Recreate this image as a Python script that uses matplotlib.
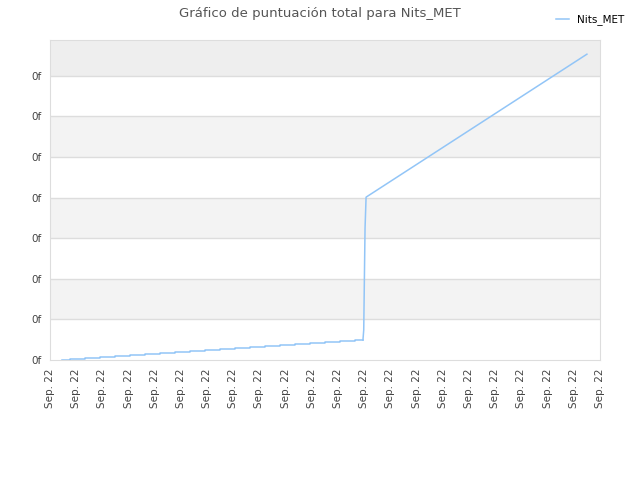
import numpy as np
import matplotlib.pyplot as plt

# Score data (x in tick units, y in grid units)
score_x = [0.46, 0.76, 1.34, 1.91, 2.48, 3.06, 3.63, 4.20, 4.77, 5.35, 5.92,
           6.49, 7.06, 7.64, 8.21, 8.78, 9.35, 9.93, 10.50, 11.07, 11.65, 11.95,
           11.98, 12.03, 12.07, 20.50]
score_y = [0.00, 0.02, 0.05, 0.08, 0.10, 0.13, 0.15, 0.18, 0.20, 0.23, 0.25,
           0.28, 0.30, 0.33, 0.35, 0.38, 0.40, 0.43, 0.45, 0.47, 0.49, 0.49,
           0.74, 3.24, 4.01, 7.53]
x_labels = ['Sep. 22'] * 22
y_labels = ['0f'] * 8

fig = plt.figure(figsize=(6.4, 4.8), dpi=100)
ax = fig.add_axes([0.078, 0.25, 0.8595, 0.6667])

# alternating background bands
for i in range(8):
    if i % 2 == 1:
        ax.axhspan(i, i + 1, color='#f3f3f3', zorder=0, lw=0)
ax.axhspan(7, 7.88, color='#eeeeee', zorder=0, lw=0)
for i in range(1, 8):
    ax.axhline(i, color='#dddddd', lw=1, zorder=1)

# staircase part then the rest
n = 22
ax.plot(score_x[:n], score_y[:n], color='#92c5f7', lw=1.1, drawstyle='steps-post',
        label='Nits_MET', zorder=3)
ax.plot(score_x[n - 1:], score_y[n - 1:], color='#92c5f7', lw=1.1, zorder=3)

ax.set_xlim(0, 21)
ax.set_ylim(0, 7.88)
ax.set_xticks(np.arange(22))
ax.set_xticklabels(x_labels, rotation=90, fontsize=7.5, color='#444444')
ax.set_yticks(np.arange(8))
ax.set_yticklabels(y_labels, fontsize=7.5, color='#444444')
ax.tick_params(length=0, pad=6)
for s in ax.spines.values():
    s.set_color('#dddddd')

fig.suptitle('Gráfico de puntuación total para Nits_MET', fontsize=9.5,
             color='#555555', y=0.985)
fig.legend(loc='upper right', bbox_to_anchor=(0.99, 0.99), frameon=False,
           fontsize=7.5, handlelength=1.2)

fig.savefig('out.png')
